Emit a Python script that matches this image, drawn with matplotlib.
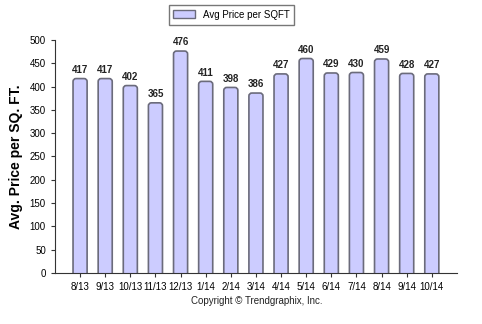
#!/usr/bin/env python3
""" avg price per sqft bars
"""
import numpy as np
import matplotlib.pyplot as plt
from matplotlib.patches import FancyBboxPatch

plt.rcParams['font.family'] = ['Liberation Sans', 'DejaVu Sans']

months = ['8/13', '9/13', '10/13', '11/13', '12/13', '1/14', '2/14', '3/14',
          '4/14', '5/14', '6/14', '7/14', '8/14', '9/14', '10/14']
prices = [417, 417, 402, 365, 476, 411, 398, 386, 427, 460, 429, 430, 459, 428, 427]
yticks = np.arange(0, 501, 50)

fig = plt.figure(figsize=(4.82, 3.24), dpi=100)
ax = fig.add_axes([0.114, 0.157, 0.834, 0.72])

x = np.arange(len(months))
bar_width = 0.56
face = '#ccccff'
edge = '#6b6b7b'

# rounded-top bars (start below 0 so the bottom corners are hidden)
aspect = (500 / 233) / (16 / 402)
for xi, p in zip(x, prices):
    patch = FancyBboxPatch((xi - bar_width / 2, -20), bar_width, p + 20,
                           boxstyle='round,pad=0,rounding_size=0.12',
                           mutation_aspect=aspect, facecolor=face,
                           edgecolor=edge, linewidth=1.2, zorder=2,
                           clip_on=True)
    ax.add_patch(patch)
    ax.text(xi, p + 8, str(p), ha='center', va='bottom', fontsize=7,
            fontweight='bold', color='#222222')

ax.set_xlim(-1, 15)
ax.set_ylim(0, 500)
ax.set_yticks(yticks)
ax.set_xticks(x)
ax.set_xticklabels(months)
ax.tick_params(axis='both', labelsize=7, length=3, color='#333333')
ax.spines['top'].set_visible(False)
ax.spines['right'].set_visible(False)
ax.spines['left'].set_color('#333333')
ax.spines['bottom'].set_color('#333333')
ax.spines['left'].set_zorder(3)
ax.spines['bottom'].set_zorder(3)
ax.set_ylabel('Avg. Price per SQ. FT.', fontsize=10, fontweight='bold', labelpad=5)

handle = plt.Rectangle((0, 0), 1, 1, facecolor=face, edgecolor=edge, linewidth=1.0)
leg = fig.legend([handle], ['Avg Price per SQFT'], loc='upper center',
                 bbox_to_anchor=(0.48, 1.0), fontsize=7,
                 fancybox=False, edgecolor='#555555', handlelength=2.2,
                 handleheight=0.9, borderpad=0.5)
leg.get_frame().set_linewidth(1.0)

fig.text(0.532, 0.072, 'Copyright \u00a9 Trendgraphix, Inc.', ha='center',
         va='center', fontsize=7, color='#222222')

plt.savefig('out.png', dpi=100)
